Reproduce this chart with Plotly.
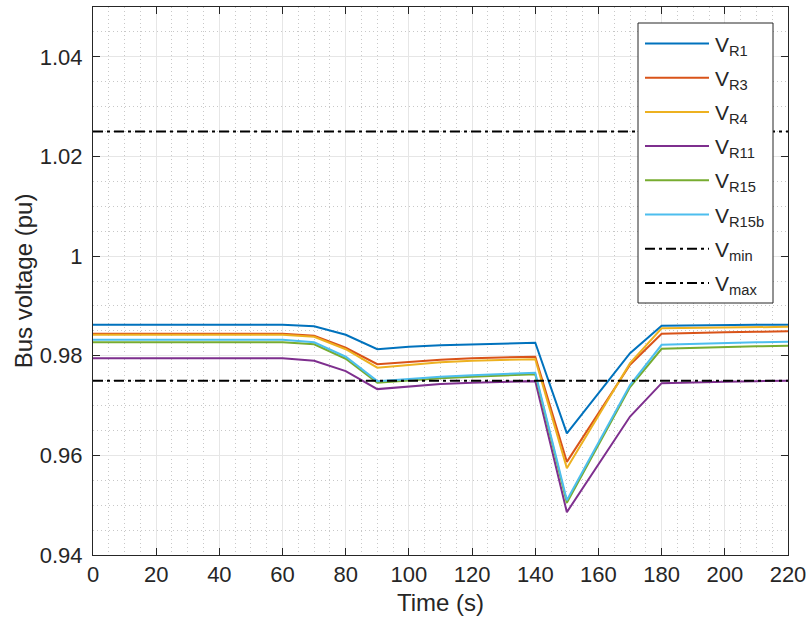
import plotly.graph_objects as go

time_s = [0, 10, 20, 30, 40, 50, 60, 70, 80, 90, 100, 110, 120, 130, 140, 150, 160, 170, 180, 190, 200, 210, 220]

v_r1 = [0.9862, 0.9862, 0.9862, 0.9862, 0.9862, 0.9862, 0.9862, 0.9859, 0.9842, 0.9813, 0.9818, 0.9821, 0.9823, 0.9825, 0.9826,
        0.9644, 0.9725, 0.9805, 0.9860, 0.9861, 0.9861, 0.9862, 0.9862]
v_r3 = [0.9844, 0.9844, 0.9844, 0.9844, 0.9844, 0.9844, 0.9844, 0.9840, 0.9816, 0.9783, 0.9788, 0.9792, 0.9795, 0.9797, 0.9798,
        0.9587, 0.9684, 0.9782, 0.9844, 0.9846, 0.9847, 0.9848, 0.9849]
v_r4 = [0.9842, 0.9842, 0.9842, 0.9842, 0.9842, 0.9842, 0.9842, 0.9838, 0.9813, 0.9776, 0.9782, 0.9787, 0.9790, 0.9792, 0.9793,
        0.9574, 0.9680, 0.9785, 0.9855, 0.9856, 0.9857, 0.9858, 0.9858]
v_r11 = [0.9795, 0.9795, 0.9795, 0.9795, 0.9795, 0.9795, 0.9795, 0.9790, 0.9769, 0.9733, 0.9738, 0.9743, 0.9746, 0.9748, 0.9749,
         0.9486, 0.9582, 0.9678, 0.9745, 0.9747, 0.9748, 0.9749, 0.9750]
v_r15 = [0.9827, 0.9827, 0.9827, 0.9827, 0.9827, 0.9827, 0.9827, 0.9823, 0.9794, 0.9746, 0.9751, 0.9755, 0.9758, 0.9761, 0.9763,
         0.9505, 0.9621, 0.9737, 0.9814, 0.9816, 0.9818, 0.9819, 0.9820]
v_r15b = [0.9832, 0.9832, 0.9832, 0.9832, 0.9832, 0.9832, 0.9832, 0.9827, 0.9798, 0.9749, 0.9754, 0.9758, 0.9761, 0.9764, 0.9766,
          0.9510, 0.9626, 0.9741, 0.9822, 0.9824, 0.9826, 0.9827, 0.9828]
v_min = 0.975
v_max = 1.025

series_names = ["V<sub>R1</sub>", "V<sub>R3</sub>", "V<sub>R4</sub>", "V<sub>R11</sub>", "V<sub>R15</sub>", "V<sub>R15b</sub>"]
series_vals = [v_r1, v_r3, v_r4, v_r11, v_r15, v_r15b]
colors = ["#0072BD", "#D95319", "#EDB120", "#7E2F8E", "#77AC30", "#4DBEEE"]
limit_names = ["V<sub>min</sub>", "V<sub>max</sub>"]
limit_vals = [v_min, v_max]

FONT = "Liberation Sans, Arial, sans-serif"
TXT = "#262626"
DASHDOT = "10px,4px,3px,4px"

W, H = 807, 622
ML, MR, MT, MB = 93, 19, 7, 67
PW, PH = W - ML - MR, H - MT - MB


def px_x(p):
    return (p - ML) / PW


def px_y(p):
    return (H - MB - p) / PH


fig = go.Figure()
for name, vals, c in zip(series_names, series_vals, colors):
    fig.add_trace(go.Scatter(x=time_s, y=vals, mode="lines", name=name, showlegend=False,
                             line=dict(color=c, width=2)))

t_ends = [time_s[0], time_s[-1]]
for name, v in zip(limit_names, limit_vals):
    fig.add_trace(go.Scatter(x=t_ends, y=[v, v], mode="lines", name=name, showlegend=False,
                             line=dict(color="black", width=2, dash=DASHDOT)))

# legend box (drawn to match the reference's long legend line samples)
shapes = [dict(type="rect", xref="paper", yref="paper",
               x0=px_x(638), x1=px_x(773), y0=px_y(303), y1=px_y(23),
               line=dict(color="#262626", width=1), fillcolor="white", layer="above")]
annotations = []
leg_entries = list(zip(series_names, colors, ["solid"] * 6)) + \
    list(zip(limit_names, ["black", "black"], [DASHDOT, DASHDOT]))
for k, (name, c, d) in enumerate(leg_entries):
    yy = 43.5 + k * 34.2
    shapes.append(dict(type="line", xref="paper", yref="paper",
                       x0=px_x(645), x1=px_x(709), y0=px_y(yy), y1=px_y(yy),
                       line=dict(color=c, width=2, dash=d), layer="above"))
    annotations.append(dict(xref="paper", yref="paper", x=px_x(713), y=px_y(yy + 2),
                            xanchor="left", yanchor="middle", text=name, showarrow=False,
                            font=dict(family=FONT, size=21, color=TXT)))

axis_common = dict(
    showline=True, linecolor=TXT, linewidth=1, mirror="ticks",
    ticks="inside", ticklen=7, tickcolor=TXT,
    showgrid=True, gridcolor="#e6e6e6", gridwidth=1,
    zeroline=False, automargin=False,
    tickfont=dict(family=FONT, size=22, color=TXT),
)

fig.update_xaxes(range=[0, 220], dtick=20, tick0=0,
                 minor=dict(dtick=5, showgrid=True, gridcolor="#c8c8c8", griddash="1px,3px", ticks=""),
                 title=dict(text="Time (s)", font=dict(family=FONT, size=24, color=TXT), standoff=7),
                 **axis_common)
fig.update_yaxes(range=[0.94, 1.05], dtick=0.02, tick0=0.94,
                 minor=dict(dtick=0.005, showgrid=True, gridcolor="#c8c8c8", griddash="1px,3px", ticks=""),
                 title=dict(text="Bus voltage (pu)", font=dict(family=FONT, size=24, color=TXT), standoff=0),
                 tickformat="~g", ticklabelstandoff=5,
                 **axis_common)

fig.update_layout(
    width=W, height=H,
    margin=dict(l=ML, r=MR, t=MT, b=MB),
    plot_bgcolor="white", paper_bgcolor="white",
    font=dict(family=FONT, size=20, color=TXT),
    shapes=shapes, annotations=annotations,
    showlegend=False,
)

fig.write_html("out.html")
